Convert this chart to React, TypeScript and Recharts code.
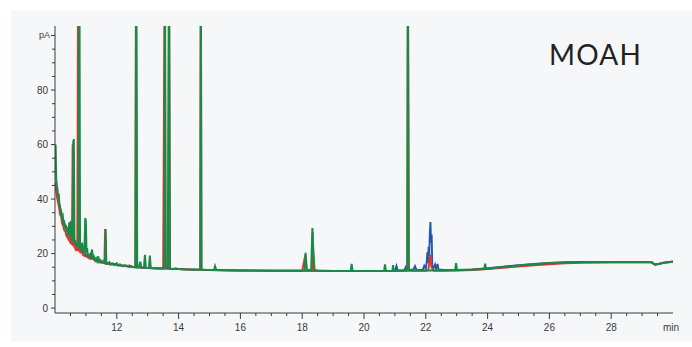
import React from "react";
import { LineChart, Line, XAxis, YAxis } from "recharts";

// Chromatogram traces: [retention time (min), signal (pA)]
const greenTrace: [number, number][] = [
  [10.0, 58], [10.02, 60], [10.04, 47], [10.06, 45], [10.08, 43.5], [10.1, 41], [10.12, 42],
  [10.14, 38.5], [10.16, 37.5], [10.18, 36], [10.2, 35.5], [10.22, 33.5], [10.25, 34], [10.27, 31],
  [10.3, 31.5], [10.32, 29.5], [10.35, 30.5], [10.37, 28.5], [10.4, 29], [10.42, 27], [10.44, 27.5],
  [10.46, 31.5], [10.48, 26.5], [10.5, 31], [10.52, 32], [10.54, 25.5], [10.56, 26], [10.57, 24.5],
  [10.59, 61], [10.61, 62], [10.63, 24], [10.65, 25], [10.68, 23], [10.7, 24], [10.72, 22.5],
  [10.74, 23.5], [10.76, 22], [10.79, 130], [10.81, 22], [10.83, 23], [10.85, 21], [10.88, 24],
  [10.9, 20.5], [10.93, 21.5], [10.95, 20], [10.98, 33], [11.0, 32], [11.02, 20], [11.04, 22],
  [11.06, 19], [11.08, 20], [11.1, 18.8], [11.13, 19.5], [11.15, 18.5], [11.2, 21.5], [11.23, 18],
  [11.26, 18.8], [11.3, 17.5], [11.33, 18.2], [11.36, 17.3], [11.4, 19], [11.43, 17], [11.47, 17.6],
  [11.5, 16.8], [11.55, 17.3], [11.58, 16.6], [11.62, 16.4], [11.64, 29], [11.66, 16.4],
  [11.72, 16.2], [11.76, 16.8], [11.8, 16], [11.85, 16.4], [11.9, 15.8], [11.95, 16.1], [12.0, 16.4],
  [12.05, 15.6], [12.1, 16], [12.15, 15.5], [12.2, 15.4], [12.25, 15.8], [12.3, 15.6], [12.35, 15.3],
  [12.4, 15.2], [12.45, 15.5], [12.5, 15.1], [12.6, 15], [12.63, 130], [12.66, 15], [12.72, 15.3],
  [12.76, 17], [12.79, 14.9], [12.88, 14.8], [12.91, 19.5], [12.94, 14.8], [13.04, 14.7],
  [13.07, 19.3], [13.1, 14.7], [13.2, 14.6], [13.3, 14.5], [13.4, 14.5], [13.5, 14.6], [13.54, 15.5],
  [13.56, 130], [13.58, 16], [13.65, 15], [13.69, 130], [13.72, 14.5], [13.8, 14.3], [13.9, 14.6],
  [14.0, 14.3], [14.2, 14.2], [14.4, 14.1], [14.6, 14.1], [14.7, 14.2], [14.72, 130], [14.74, 14.2],
  [14.85, 14], [15.0, 14], [15.15, 14], [15.18, 15.4], [15.22, 14], [15.5, 13.9], [16.0, 13.8],
  [16.5, 13.8], [17.0, 13.7], [17.5, 13.7], [17.9, 13.7], [18.07, 13.8], [18.11, 20.3], [18.15, 14],
  [18.29, 14], [18.33, 29.4], [18.36, 21], [18.4, 14], [18.5, 13.7], [19.0, 13.6], [19.5, 13.6],
  [19.57, 13.6], [19.6, 16.2], [19.63, 13.6], [20.0, 13.6], [20.65, 13.6], [20.68, 16], [20.71, 13.6],
  [20.92, 13.7], [20.94, 15.8], [20.96, 13.7], [21.3, 13.7], [21.4, 14], [21.42, 130], [21.45, 14],
  [21.6, 13.8], [22.0, 13.8], [22.5, 13.8], [22.95, 13.9], [22.98, 16.5], [23.01, 13.9],
  [23.5, 14.1], [23.89, 14.3], [23.92, 16.3], [23.95, 14.4], [24.5, 15.1], [25.0, 15.6],
  [25.5, 16.1], [26.0, 16.5], [26.5, 16.7], [27.0, 16.8], [28.0, 16.8], [29.0, 16.8], [29.3, 16.8],
  [29.42, 15.9], [29.55, 16.2], [29.7, 16.6], [30.0, 17],
];

const redTrace: [number, number][] = [
  [10.0, 45], [10.03, 43.5], [10.06, 41], [10.1, 38.5], [10.13, 37], [10.16, 34.5], [10.2, 33.5],
  [10.23, 31], [10.27, 30], [10.3, 28.5], [10.34, 28], [10.37, 26.5], [10.4, 26], [10.45, 25],
  [10.48, 28], [10.5, 24], [10.55, 23.5], [10.57, 60], [10.59, 23], [10.63, 22.5], [10.67, 21.5],
  [10.7, 22.5], [10.72, 21], [10.75, 130], [10.78, 21], [10.82, 20.5], [10.86, 21.5], [10.9, 19.5],
  [10.95, 19.2], [11.0, 19], [11.05, 18.6], [11.1, 18.8], [11.15, 18], [11.2, 18.3], [11.3, 17.4],
  [11.4, 17], [11.5, 16.7], [11.6, 16.5], [11.62, 29], [11.65, 16.3], [11.8, 16], [11.9, 16.3],
  [12.0, 15.7], [12.1, 16], [12.2, 15.5], [12.3, 15.5], [12.4, 15.6], [12.5, 15.2], [12.6, 15],
  [12.62, 130], [12.65, 15], [13.0, 14.7], [13.5, 14.5], [13.55, 130], [13.58, 15], [13.67, 14.8],
  [13.69, 130], [13.72, 14.5], [14.0, 14.3], [14.5, 14.1], [14.7, 14.1], [14.72, 130], [14.74, 14.1],
  [15.0, 14], [16.0, 13.8], [17.0, 13.7], [18.0, 13.7], [18.1, 19.5], [18.14, 13.8], [18.32, 13.8],
  [18.34, 28], [18.37, 13.8], [19.0, 13.6], [20.0, 13.6], [21.0, 13.6], [21.4, 13.8], [21.42, 130],
  [21.45, 13.8], [22.0, 13.7], [22.08, 14], [22.12, 17], [22.15, 19.5], [22.18, 15], [22.25, 13.8],
  [22.5, 13.7], [23.0, 13.8], [23.5, 14], [24.0, 14.3], [24.5, 14.8], [25.0, 15.2], [25.5, 15.7],
  [26.0, 16.1], [26.5, 16.4], [27.0, 16.6], [28.0, 16.8], [29.0, 16.8], [29.3, 16.8], [29.42, 15.9],
  [29.55, 16.2], [29.7, 16.6], [30.0, 17],
];

const blueTrace: [number, number][] = [
  [10.0, 46], [10.04, 44], [10.1, 40], [10.2, 35], [10.3, 31], [10.4, 28], [10.5, 26],
  [10.7, 22.5], [11.0, 19.5], [11.5, 17], [12.0, 15.8], [12.5, 15.1], [13.0, 14.7], [13.5, 14.5],
  [14.0, 14.3], [15.0, 14], [16.0, 13.8], [17.0, 13.7], [18.0, 13.7], [19.0, 13.6], [20.0, 13.6],
  [21.0, 13.7], [21.05, 15.5], [21.09, 13.8], [21.3, 13.8], [21.35, 15], [21.38, 13.8],
  [21.6, 14.2], [21.65, 15.4], [21.7, 14], [21.9, 14], [21.95, 15.5], [22.0, 14.5],
  [22.03, 17], [22.05, 20.5], [22.07, 16.5], [22.09, 22.5], [22.11, 19], [22.13, 27.5],
  [22.15, 31.6], [22.17, 24], [22.19, 27], [22.21, 15], [22.24, 14.5], [22.3, 16], [22.33, 14.4],
  [22.38, 16.2], [22.41, 14.2], [22.6, 14], [23.0, 14], [23.5, 14.2], [24.0, 14.6], [24.5, 15.2],
  [25.0, 15.7], [25.5, 16.2], [26.0, 16.6], [26.5, 16.8], [27.0, 16.9], [28.0, 16.9], [29.0, 16.9],
  [29.3, 16.9], [29.42, 16], [29.55, 16.3], [29.7, 16.7], [30.0, 17.1],
];

const xTicks: number[] = [
  10, 10.5, 11, 11.5, 12, 12.5, 13, 13.5, 14, 14.5, 15, 15.5, 16, 16.5, 17, 17.5, 18, 18.5,
  19, 19.5, 20, 20.5, 21, 21.5, 22, 22.5, 23, 23.5, 24, 24.5, 25, 25.5, 26, 26.5, 27, 27.5,
  28, 28.5, 29, 29.5, 30,
];
const xLabels: number[] = [12, 14, 16, 18, 20, 22, 24, 26, 28];
const yTicks: number[] = [0, 5, 10, 15, 20, 25, 30, 35, 40, 45, 50, 55, 60, 65, 70, 75, 80, 85, 90, 95, 100];
const yLabels: number[] = [0, 20, 40, 60, 80];

const toRows = (arr: [number, number][]) => arr.map(([t, v]) => ({ t, v }));

const AXIS = "#3a3a3a";
const FONT = "'Liberation Sans', Arial, sans-serif";

const XTick = (props: any) => {
  const { x, y, payload } = props;
  const v = payload.value as number;
  if (v === 10) return <g />;
  if (v === 30) {
    return (
      <text x={x - 2} y={y + 18} textAnchor="middle" fontSize={10} fill={AXIS} fontFamily={FONT}>
        min
      </text>
    );
  }
  const major = xLabels.includes(v);
  return (
    <g>
      <line x1={x} x2={x} y1={y} y2={y + (major ? 6 : 3)} stroke={AXIS} strokeWidth={1} />
      {major && (
        <text x={x} y={y + 18} textAnchor="middle" fontSize={10} fill={AXIS} fontFamily={FONT}>
          {v}
        </text>
      )}
    </g>
  );
};

const YTick = (props: any) => {
  const { x, y, payload } = props;
  const v = payload.value as number;
  const major = yLabels.includes(v) || v === 100;
  return (
    <g>
      <line x1={x - (major ? 4 : 3)} x2={x} y1={y} y2={y} stroke={AXIS} strokeWidth={1} />
      {yLabels.includes(v) && (
        <text x={x - 7} y={y + 3.5} textAnchor="end" fontSize={10} fill={AXIS} fontFamily={FONT}>
          {v}
        </text>
      )}
      {v === 100 && (
        <text x={x - 5} y={y + 2} textAnchor="end" fontSize={9} fill={AXIS} fontFamily={FONT}>
          pA
        </text>
      )}
    </g>
  );
};

export default function App() {
  return (
    <div style={{ position: "absolute", left: 0, top: 0, width: 692, height: 347, background: "#ffffff" }}>
      <div style={{ position: "absolute", left: 11, top: 10, width: 681, height: 332, background: "#f6f7f9" }} />
      <div style={{ position: "absolute", left: 0, top: 0 }}>
        <LineChart width={692} height={347} margin={{ top: 26, right: 19, left: 0, bottom: 0 }}>
          <XAxis
            dataKey="t"
            type="number"
            domain={[10, 30]}
            ticks={xTicks}
            interval={0}
            allowDataOverflow
            height={34}
            tickLine={false}
            tickSize={0}
            tickMargin={0}
            stroke={AXIS}
            tick={<XTick />}
          />
          <YAxis
            type="number"
            domain={[-1.8, 103.5]}
            ticks={yTicks}
            interval={0}
            allowDataOverflow
            width={55}
            tickLine={false}
            tickSize={0}
            tickMargin={0}
            stroke={AXIS}
            tick={<YTick />}
          />
          <Line data={toRows(blueTrace)} dataKey="v" type="linear" stroke="#2457a6" strokeWidth={1.9} dot={false} isAnimationActive={false} />
          <Line data={toRows(redTrace)} dataKey="v" type="linear" stroke="#e5322d" strokeWidth={1.9} dot={false} isAnimationActive={false} />
          <Line data={toRows(greenTrace)} dataKey="v" type="linear" stroke="#1b8a47" strokeWidth={2} dot={false} isAnimationActive={false} />
        </LineChart>
      </div>
      <div
        style={{
          position: "absolute",
          left: 549,
          top: 36,
          fontFamily: "Lato, 'Open Sans', sans-serif",
          fontWeight: 400,
          fontSize: 28,
          letterSpacing: 1.2,
          lineHeight: "36px",
          color: "#222",
        }}
      >
        MOAH
      </div>
    </div>
  );
}
